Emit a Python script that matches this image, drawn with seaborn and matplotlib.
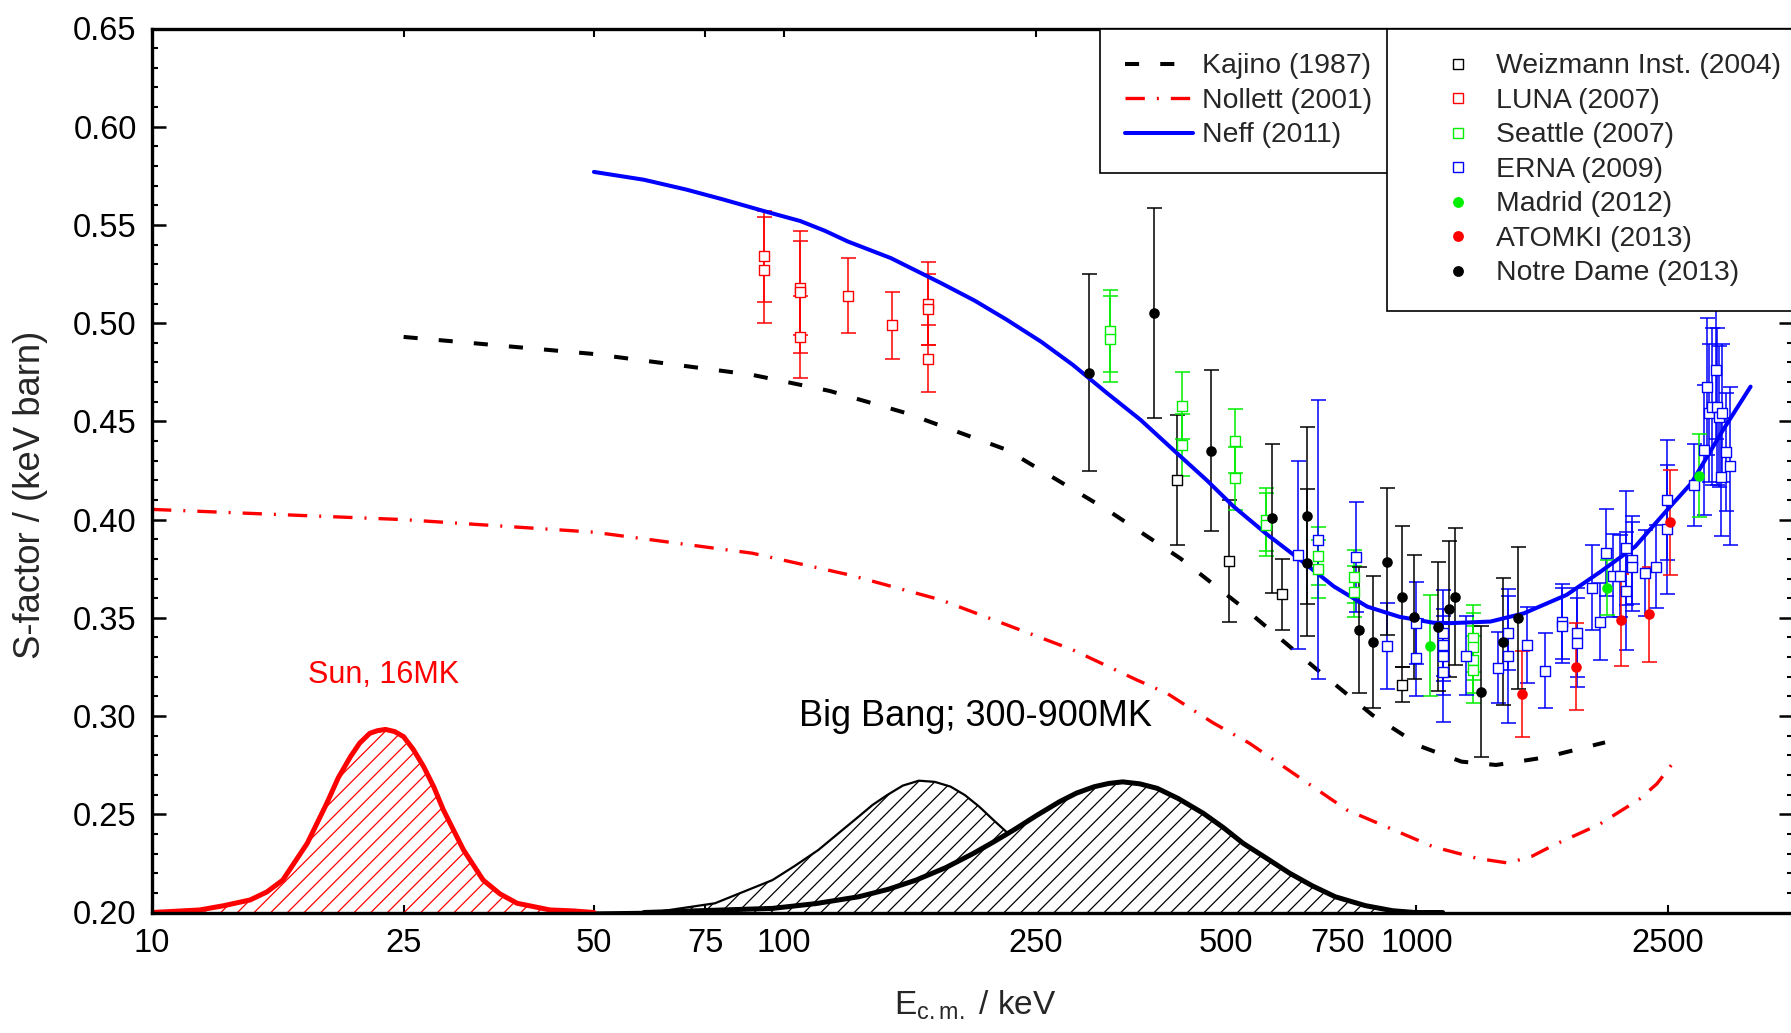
import matplotlib
matplotlib.use("Agg")
import matplotlib.pyplot as plt
import seaborn as sns
from matplotlib.lines import Line2D
from matplotlib.ticker import FixedLocator, FixedFormatter, MultipleLocator, FormatStrFormatter, NullLocator

# ---------------- theory curves (E in keV, S in keV barn) ----------------
kajino_e = [25, 50, 89, 118, 156, 225, 324, 423, 546, 697, 851, 1018, 1178, 1336, 1600, 1987]
kajino_s = [0.493, 0.4843, 0.4737, 0.4655, 0.4542, 0.4355, 0.405, 0.3803, 0.3523, 0.3235,
            0.3006, 0.2844, 0.2768, 0.2751, 0.279, 0.2866]

nollett_e = [10, 25, 50, 89, 127, 177, 225, 286, 361, 403, 477, 544, 776, 1062, 1250, 1395,
             1520, 1648, 1945, 2250, 2400, 2529]
nollett_s = [0.4052, 0.400, 0.3936, 0.3829, 0.3718, 0.3591, 0.3464, 0.3337, 0.3184, 0.3116,
             0.2965, 0.2862, 0.2522, 0.2335, 0.2275, 0.2252, 0.2285, 0.2343, 0.2448, 0.2576,
             0.2655, 0.275]

neff_e = [50, 60, 70, 80, 93, 106, 116, 126, 147.5, 177, 200, 225, 255, 286, 324, 366, 418, 466,
          514, 580, 655, 740, 836, 940, 1064, 1132, 1309, 1479, 1728, 1955, 2218, 2493, 2720,
          3055, 3376]
neff_s = [0.577, 0.573, 0.568, 0.563, 0.557, 0.552, 0.547, 0.5416, 0.5331, 0.5204, 0.5115,
          0.5017, 0.4905, 0.4788, 0.4644, 0.4508, 0.4338, 0.420, 0.4066, 0.3925, 0.3795, 0.366,
          0.3557, 0.3505, 0.3475, 0.3473, 0.3481, 0.3523, 0.3617, 0.3735, 0.3863, 0.405, 0.4185,
          0.4457, 0.4677]

# ---------------- Gamow windows ----------------
sun_e = [10, 11.9, 13.0, 14.3, 15.2, 16.1, 17.6, 18.9, 19.7, 20.6, 21.3, 22.1, 22.7, 23.4, 24.2,
         25.0, 25.9, 26.9, 27.9, 28.9, 30.0, 31.1, 33.4, 35.5, 37.8, 42.6, 46.4, 50]
sun_s = [0.2, 0.2013, 0.2035, 0.2064, 0.2105, 0.2165, 0.2352, 0.2556, 0.2685, 0.2793, 0.2862,
         0.2912, 0.2925, 0.2932, 0.2921, 0.2895, 0.2830, 0.2742, 0.2640, 0.2522, 0.2418, 0.2318,
         0.2165, 0.2095, 0.2047, 0.2013, 0.2008, 0.2]

bb_low_e = [50, 63.1, 77.7, 95.8, 104, 113.2, 122, 131.1, 138, 145.5, 154, 163.3, 173, 183.2,
            193, 203.4, 214, 225.9, 282, 355, 447, 560]
bb_low_s = [0.2, 0.2004, 0.2047, 0.2165, 0.2238, 0.2318, 0.2405, 0.2488, 0.2548, 0.2598, 0.2646,
            0.2671, 0.2665, 0.2641, 0.2598, 0.2539, 0.2472, 0.2403, 0.217, 0.204, 0.2008, 0.2]

bb_high_e = [60, 95.8, 112, 131.1, 146, 161.6, 180, 199.2, 214, 230.6, 251, 272.5, 290, 309,
             326, 343, 365, 389, 420, 460, 495, 532, 580, 630, 685, 744, 830, 917, 995, 1100]
bb_high_s = [0.2, 0.2021, 0.2045, 0.208, 0.2118, 0.2165, 0.2228, 0.2301, 0.2358, 0.242, 0.2495,
             0.2564, 0.2608, 0.264, 0.2657, 0.2665, 0.2655, 0.2632, 0.2580, 0.2505, 0.2432,
             0.2352, 0.2275, 0.22, 0.2135, 0.208, 0.2035, 0.2009, 0.2, 0.2]

# ---------------- measurements ----------------
luna_e = [93, 93, 106, 106, 106, 126, 148, 169, 169, 169]
luna_s = [0.534, 0.527, 0.518, 0.516, 0.493, 0.514, 0.499, 0.510, 0.507, 0.482]
luna_err = [0.023, 0.027, 0.024, 0.031, 0.021, 0.019, 0.017, 0.021, 0.018, 0.017]

weiz_e = [418, 505, 613, 947]
weiz_s = [0.420, 0.379, 0.362, 0.316]
weiz_err = [0.033, 0.031, 0.018, 0.009]

seattle_e = [327, 327, 425, 425, 517, 517, 578, 578, 699, 699, 796, 796, 1229, 1229, 1229, 1229]
seattle_s = [0.496, 0.492, 0.458, 0.438, 0.440, 0.421, 0.400, 0.3975, 0.3815, 0.3747, 0.371,
             0.3633, 0.3396, 0.3353, 0.3286, 0.3235]
seattle_err = [0.021, 0.022, 0.017, 0.016, 0.0165, 0.016, 0.016, 0.016, 0.0146, 0.0148, 0.0136,
               0.013, 0.017, 0.017, 0.017, 0.017]

erna_e = [649, 699, 801, 899, 1000, 1000, 1100, 1100, 1100, 1100, 1198, 1347, 1395, 1395, 1497,
          1596, 1700, 1700, 1797, 1797, 1897, 1949, 1996, 2045, 2095, 2147, 2147, 2194, 2194,
          2296, 2395, 2493, 2493, 2747, 2849, 2884, 2901, 2937, 2972, 2991, 3008, 3027, 3046,
          3083, 3131]
erna_s = [0.382, 0.3897, 0.3812, 0.3357, 0.3473, 0.3297, 0.3422, 0.3362, 0.3308, 0.3223, 0.3308,
          0.3246, 0.3422, 0.3305, 0.3362, 0.3231, 0.3481, 0.346, 0.3425, 0.3374, 0.3654, 0.3481,
          0.3832, 0.3715, 0.3713, 0.3854, 0.3637, 0.3795, 0.3761, 0.3727, 0.3761, 0.410, 0.395,
          0.4177, 0.4355, 0.4677, 0.4542, 0.4575, 0.4762, 0.4575, 0.4524, 0.4219, 0.4542,
          0.4346, 0.4273]
erna_err = [0.048, 0.071, 0.028, 0.022, 0.021, 0.0195, 0.022, 0.0185, 0.02, 0.0255, 0.020, 0.018,
            0.019, 0.034, 0.0195, 0.019, 0.019, 0.019, 0.0226, 0.0226, 0.0215, 0.0195, 0.022,
            0.021, 0.021, 0.029, 0.030, 0.0225, 0.0225, 0.022, 0.021, 0.0305, 0.033, 0.021,
            0.033, 0.035, 0.035, 0.040, 0.035, 0.040, 0.036, 0.030, 0.035, 0.030, 0.040]

madrid_e = [1050, 1998, 2797]
madrid_s = [0.3358, 0.3654, 0.4223]
madrid_err = [0.0257, 0.0138, 0.0212]

atomki_e = [1466, 1785, 2108, 2332, 2516]
atomki_s = [0.3113, 0.3252, 0.3489, 0.3518, 0.3987]
atomki_err = [0.0219, 0.022, 0.0232, 0.0243, 0.0267]

nd_e = [303, 384, 473, 591, 670, 670, 812, 854, 899, 949, 990, 1080, 1125, 1150, 1263, 1370, 1449]
nd_s = [0.4748, 0.5051, 0.435, 0.4007, 0.4019, 0.3781, 0.3438, 0.3379, 0.3786, 0.3608, 0.3503,
        0.3455, 0.3545, 0.3608, 0.3124, 0.3379, 0.3498]
nd_err = [0.050, 0.0535, 0.041, 0.038, 0.045, 0.0375, 0.032, 0.0336, 0.0375, 0.0358, 0.0316,
          0.0328, 0.0344, 0.0348, 0.0334, 0.0323, 0.0362]

x_ticks = [10, 25, 50, 75, 100, 250, 500, 750, 1000, 2500]
x_tick_labels = ["10", "25", "50", "75", "100", "250", "500", "750", "1000", "2500"]

# ---------------- style ----------------
sns.set_theme(style="ticks")
plt.rcParams["font.family"] = ["Liberation Sans", "DejaVu Sans"]
plt.rcParams["mathtext.fontset"] = "custom"
plt.rcParams["mathtext.rm"] = "Liberation Sans"
plt.rcParams["mathtext.it"] = "Liberation Sans:italic"
plt.rcParams["hatch.linewidth"] = 0.9

RED = "#ff0000"
GREEN = "#00ee00"
BLUE = "#0000ff"

fig = plt.figure(figsize=(17.91, 10.33), dpi=100)
ax = fig.add_axes([152 / 1791, 120.5 / 1033, 1641 / 1791, 884 / 1033])
ax.set_xscale("log")
ax.set_xlim(10, 3940)
ax.set_ylim(0.20, 0.65)

# Gamow windows: Sun (red) and Big Bang (two black peaks)
plt.rcParams["hatch.color"] = RED
ax.fill_between(sun_e, 0.2, sun_s, facecolor="none", edgecolor=RED, hatch="//", linewidth=0, zorder=1)
sns.lineplot(x=sun_e, y=sun_s, ax=ax, color=RED, lw=3.6, zorder=1.5, estimator=None)

plt.rcParams["hatch.color"] = "black"
ax.fill_between(bb_low_e, 0.2, bb_low_s, facecolor="none", edgecolor="black", hatch="//",
                linewidth=0, zorder=1)
sns.lineplot(x=bb_low_e, y=bb_low_s, ax=ax, color="black", lw=1.6, zorder=1.1, estimator=None)
ax.fill_between(bb_high_e, 0.2, bb_high_s, facecolor="white", edgecolor="black", hatch="//",
                linewidth=0, zorder=1.2)
sns.lineplot(x=bb_high_e, y=bb_high_s, ax=ax, color="black", lw=3.6, zorder=1.5, estimator=None)

# theory curves
sns.lineplot(x=kajino_e, y=kajino_s, ax=ax, color="black", lw=2.9, linestyle=(0, (3.5, 5.25)),
             zorder=2, estimator=None)
sns.lineplot(x=nollett_e, y=nollett_s, ax=ax, color=RED, lw=2.4,
             linestyle=(0, (5.8, 3.6, 0.6, 3.6)), zorder=2, estimator=None)


def data_set(e, s, err, color, marker, filled):
    ax.errorbar(e, s, yerr=err, fmt="none", ecolor=color, elinewidth=1.1, capsize=5.4,
                capthick=1.1, zorder=3)
    if filled:
        sns.scatterplot(x=e, y=s, ax=ax, marker=marker, s=58, color=color, edgecolor=color,
                        linewidth=0, zorder=5)
    else:
        sns.scatterplot(x=e, y=s, ax=ax, marker=marker, s=46, color="white", edgecolor=color,
                        linewidth=1.0, zorder=5)


data_set(luna_e, luna_s, luna_err, RED, "s", False)
data_set(weiz_e, weiz_s, weiz_err, "black", "s", False)
data_set(seattle_e, seattle_s, seattle_err, GREEN, "s", False)
data_set(erna_e, erna_s, erna_err, BLUE, "s", False)
data_set(madrid_e, madrid_s, madrid_err, GREEN, "o", True)
data_set(atomki_e, atomki_s, atomki_err, RED, "o", True)
data_set(nd_e, nd_s, nd_err, "black", "o", True)

sns.lineplot(x=neff_e, y=neff_s, ax=ax, color=BLUE, lw=2.9, zorder=4, estimator=None)

# annotations
ax.text(23.2, 0.3209, "Sun, 16MK", color=RED, fontsize=22, ha="center", va="center")
ax.text(201, 0.300, "Big Bang; 300-900MK", color="black", fontsize=26, ha="center", va="center")

# axes, ticks
ax.xaxis.set_major_locator(FixedLocator(x_ticks))
ax.xaxis.set_major_formatter(FixedFormatter(x_tick_labels))
ax.xaxis.set_minor_locator(NullLocator())
ax.yaxis.set_major_locator(MultipleLocator(0.05))
ax.yaxis.set_minor_locator(MultipleLocator(0.01))
ax.yaxis.set_major_formatter(FormatStrFormatter("%.2f"))
ax.tick_params(axis="both", which="both", direction="in", top=True, right=True, colors="black",
               labelsize=23.5, pad=11)
ax.tick_params(axis="x", which="major", length=6, width=1.5)
ax.tick_params(axis="y", which="major", length=10, width=1.8)
ax.tick_params(axis="y", which="minor", length=4.5, width=1.5)
for sp in ax.spines.values():
    sp.set_linewidth(2.4)
    sp.set_color("black")

ax.set_xlabel(r"E$_{\mathrm{c.m.}}$ / keV", fontsize=24, va="top")
ax.xaxis.set_label_coords(0.5015, -0.086)
ax.set_ylabel("S-factor / (keV barn)", fontsize=26.3, va="center")
ax.yaxis.set_label_coords(-0.0738, 0.4727)

# legends
line_handles = [
    Line2D([], [], color="black", lw=2.9, linestyle=(0, (3.5, 5.25))),
    Line2D([], [], color=RED, lw=2.4, linestyle=(0, (5.8, 3.6, 0.6, 3.6))),
    Line2D([], [], color=BLUE, lw=2.9),
]
line_labels = ["Kajino (1987)", "Nollett (2001)", "Neff (2011)"]

mk = dict(ls="none", ms=6.5)
point_handles = [
    Line2D([], [], marker="s", mfc="white", mec="black", mew=1.0, **mk),
    Line2D([], [], marker="s", mfc="white", mec=RED, mew=1.0, **mk),
    Line2D([], [], marker="s", mfc="white", mec=GREEN, mew=1.0, **mk),
    Line2D([], [], marker="s", mfc="white", mec=BLUE, mew=1.0, **mk),
    Line2D([], [], marker="o", mfc=GREEN, mec=GREEN, mew=0, ms=7.8, ls="none"),
    Line2D([], [], marker="o", mfc=RED, mec=RED, mew=0, ms=7.8, ls="none"),
    Line2D([], [], marker="o", mfc="black", mec="black", mew=0, ms=7.8, ls="none"),
]
point_labels = ["Weizmann Inst. (2004)", "LUNA (2007)", "Seattle (2007)", "ERNA (2009)",
                "Madrid (2012)", "ATOMKI (2013)", "Notre Dame (2013)"]

common = dict(loc="upper left", borderaxespad=0, fancybox=False, framealpha=1, edgecolor="black",
              fontsize=20.4, borderpad=0.88, labelspacing=0.30)
leg1 = ax.legend(line_handles, line_labels, bbox_to_anchor=(0.5778, 1.0), handlelength=2.4,
                 handletextpad=0.3, **common)
leg1.get_frame().set_linewidth(1.2)
leg1.set_zorder(10)
ax.add_artist(leg1)
leg2 = ax.legend(point_handles, point_labels, bbox_to_anchor=(0.7523, 1.0), handlelength=3.3,
                 handletextpad=-0.3, **common)
leg2.get_frame().set_linewidth(1.2)
leg2.set_zorder(10)

fig.savefig("out.png", dpi=100)
